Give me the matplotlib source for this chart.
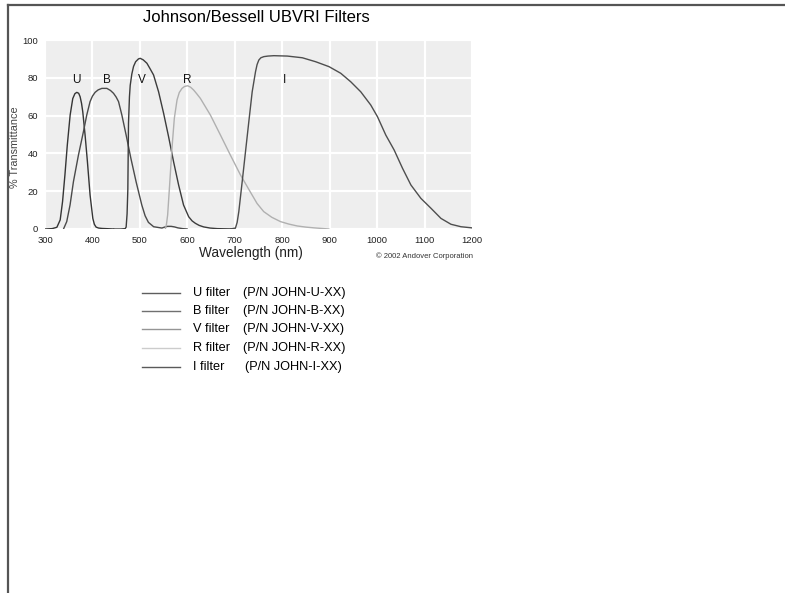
import matplotlib
matplotlib.use("Agg")
import matplotlib.pyplot as plt
from matplotlib.lines import Line2D

plt.rcParams['font.family'] = ['Liberation Sans', 'DejaVu Sans']

# --- DATA ---
u_wl = [300, 315, 325, 332, 337, 342, 347, 353, 358.5, 363, 367, 371, 374, 377, 379.6, 384.5, 389.4, 395,
        400.8, 404, 407.7, 413, 420, 445]
u_tr = [0, 0.2, 0.9, 4.8, 14.5, 28.6, 44.4, 60.3, 69, 71.6, 72.3, 71.8, 70, 66.5, 62, 49.7, 35.6, 18,
        5.6, 2.5, 1, 0.5, 0.3, 0]

b_wl = [339, 345.8, 352.8, 359.9, 370.4, 381, 388, 395, 400, 405.6, 412, 419.8, 430.4, 438, 444.4, 450,
        455, 462, 471, 481, 492, 504, 511, 518, 529, 546.5, 552, 558, 566, 573, 580, 590, 600]
b_tr = [0, 3.9, 12.7, 25, 39, 51.5, 60.3, 67.4, 70.3, 72.3, 73.6, 74.4, 74.4, 73.3, 71.8, 69.8,
        67.4, 60.3, 49.7, 37.4, 25, 12.7, 7, 3.5, 1.2, 0.5, 1, 1.4, 1.4, 1.1, 0.6, 0.2, 0]

v_wl = [445, 460, 469, 471, 473, 474.6, 476, 478, 479.6, 483, 486.6, 491, 497, 500.7, 507, 514.8, 521,
        528.8, 539.4, 550, 560.5, 571, 581.6, 592, 602.8, 610, 617, 625, 634.5, 648, 662.8, 680, 701]
v_tr = [0, 0, 0.2, 1, 8, 21, 56, 70, 76, 82, 86, 88.5, 90, 90.3, 89.5, 87.7, 85,
        81.5, 72.6, 61.2, 48.8, 35.6, 23.3, 12.7, 6.5, 4.3, 3, 1.9, 1.1, 0.5, 0.2, 0.1, 0]

r_wl = [553.6, 556, 558.5, 562.6, 567.6, 572.6, 578.3, 583, 588.8, 594, 600.7, 607, 613.4, 620, 627.5,
        648.6, 669.8, 690.9, 712, 733, 747, 761, 778, 796.5, 814, 831.8, 850, 867, 898.6]
r_tr = [0, 2.5, 7.4, 23, 42.7, 58.6, 68.3, 72.2, 74.4, 75.4, 75.8, 75, 73.5, 71.5, 69.1,
        60.3, 49.7, 39, 28.6, 19.5, 13.5, 9.2, 6.2, 3.9, 2.6, 1.6, 1, 0.6, 0]

i_wl = [690.9, 701.4, 705, 708.5, 715.6, 722.6, 729.6, 736.7, 743.7, 747, 750.7, 755, 761.3, 770, 782.4,
        810.7, 842.4, 870.5, 898.6, 923.3, 944.4, 965.5, 986.6, 1000.8, 1018.3, 1035.9, 1053.6,
        1071.2, 1092.3, 1113.4, 1134.6, 1155.7, 1176.8, 1200]
i_tr = [0, 0.5, 3.5, 9.2, 25, 40.9, 56.8, 72.6, 83.2, 87, 89.4, 90.6, 91.2, 91.5, 91.7,
        91.5, 90.6, 88.5, 85.9, 82.4, 77.9, 72.6, 65.6, 59.4, 49.7, 41.8, 32.1,
        23.3, 16.2, 11, 5.6, 2.5, 1.2, 0.6]

band_names = ["U", "B", "V", "R", "I"]
band_label_x = [367, 430, 505, 600, 805]
part_numbers = ["(P/N JOHN-U-XX)", "(P/N JOHN-B-XX)", "(P/N JOHN-V-XX)",
                "(P/N JOHN-R-XX)", "(P/N JOHN-I-XX)"]

curves = [(u_wl, u_tr), (b_wl, b_tr), (v_wl, v_tr), (r_wl, r_tr), (i_wl, i_tr)]
curve_colors = ["#353535", "#4a4a4a", "#3c3c3c", "#b0b0b0", "#4e4e4e"]
legend_colors = ["#5e5e5e", "#707070", "#959595", "#cccccc", "#5a5a5a"]

# --- FIGURE ---
W, H = 785, 593
fig = plt.figure(figsize=(W / 100, H / 100), dpi=100)
fig.patch.set_facecolor("white")

ax = fig.add_axes([45 / W, 1 - 229 / H, 427 / W, 189 / H])
ax.set_facecolor("#eeeeee")
for s in ax.spines.values():
    s.set_visible(False)

for (wl, tr), c in zip(curves, curve_colors):
    ax.plot(wl, tr, color=c, lw=1.0, solid_joinstyle="round", solid_capstyle="round")

ax.set_xlim(300, 1200)
ax.set_ylim(0, 100)
ax.set_xticks(range(300, 1201, 100))
ax.set_yticks(range(0, 101, 20))
ax.grid(True, color="white", lw=1.6)
ax.set_axisbelow(True)
ax.tick_params(labelsize=6.8, length=0, colors="#222222")
ax.tick_params(axis="x", pad=5)
ax.tick_params(axis="y", pad=5)

for name, x in zip(band_names, band_label_x):
    ax.text(x, 79, name, ha="center", va="center", fontsize=8.5, color="#111111")

fig.text(251 / W, 1 - 253 / H, "Wavelength (nm)", ha="center", va="center", fontsize=9.8,
         color="#222222")
fig.text(15 / W, 1 - 147 / H, "% Transmittance", rotation=90, ha="center", va="center",
         fontsize=7.8, color="#444444")
fig.text(256 / W, 1 - 18 / H, "Johnson/Bessell UBVRI Filters", ha="center", va="center",
         fontsize=12)
fig.text(425 / W, 1 - 256 / H, "\u00a9 2002 Andover Corporation", ha="center", va="center",
         fontsize=5.5, color="#333333")

# legend block
row_y = [293, 311, 329, 348, 367]
for name, pn, c, y in zip(band_names, part_numbers, legend_colors, row_y):
    fy = 1 - y / H
    fig.add_artist(Line2D([142 / W, 180 / W], [fy, fy], color=c, lw=1.0))
    fig.text(193 / W, fy, f"{name} filter", ha="left", va="center", fontsize=9.2)
    px = 245 if name == "I" else 243
    fig.text(px / W, fy, pn, ha="left", va="center", fontsize=9.2)

# page border (top and left edges)
fig.add_artist(Line2D([8 / W, 1], [1 - 4.5 / H, 1 - 4.5 / H], color="#555555", lw=1.6))
fig.add_artist(Line2D([8 / W, 8 / W], [0, 1 - 4.5 / H], color="#555555", lw=1.6))

fig.savefig("out.png", dpi=100)
